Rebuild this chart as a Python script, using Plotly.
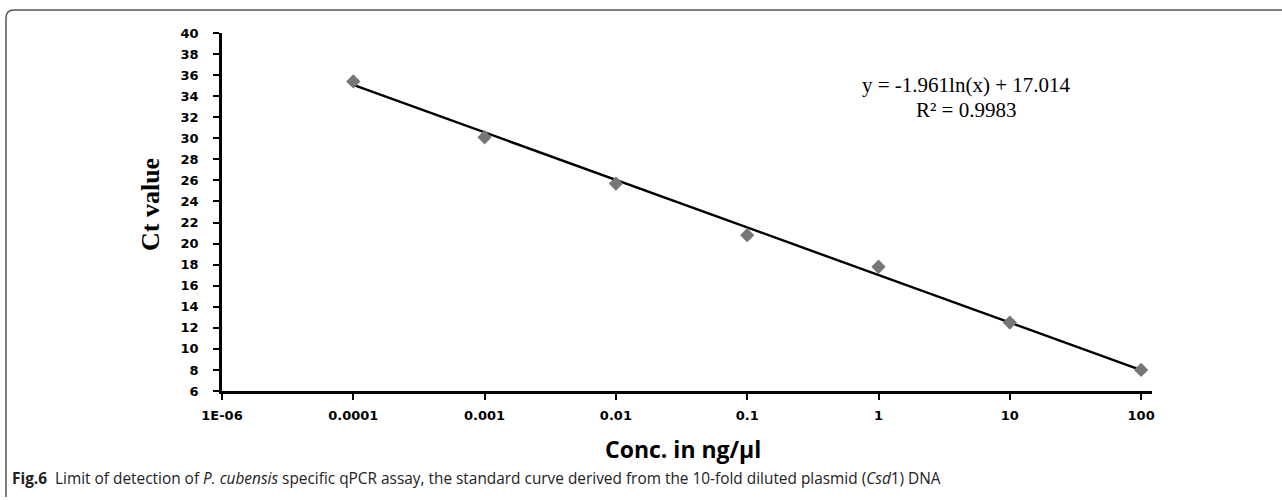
import math
import plotly.graph_objects as go

# ---- data ----
conc = [0.0001, 0.001, 0.01, 0.1, 1, 10, 100]
ct_values = [35.4, 30.1, 25.7, 20.8, 17.8, 12.5, 8.0]
tick_vals = [1e-5, 1e-4, 1e-3, 1e-2, 1e-1, 1, 10, 100]
tick_text = ["1E-06", "0.0001", "0.001", "0.01", "0.1", "1", "10", "100"]
trend_slope = -1.961
trend_intercept = 17.014
r_squared = 0.9983

trend_x = [conc[0], conc[-1]]
trend_y = [trend_slope * math.log(v) + trend_intercept for v in trend_x]

W, H = 1282, 500
L, R, T, B = 222, 130, 33, 109
pw, ph = W - L - R, H - T - B


def px(x):
    return (x - L) / pw


def py(y):
    return (H - B - y) / ph


fig = go.Figure()
fig.add_trace(go.Scatter(
    x=trend_x, y=trend_y, mode="lines",
    line=dict(color="black", width=2.4), showlegend=False, hoverinfo="skip"))
fig.add_trace(go.Scatter(
    x=conc, y=ct_values, mode="markers",
    marker=dict(symbol="diamond", size=11, color="#767676"),
    showlegend=False))

tickfont = dict(family="DejaVu Sans", size=13, color="black", weight="bold")

fig.update_xaxes(
    type="log", range=[-5, 2.083], tickvals=tick_vals, ticktext=tick_text,
    showgrid=False, zeroline=False, showline=True, linecolor="black", linewidth=2.5,
    ticks="outside", ticklen=6, tickwidth=2, tickcolor="black",
    tickfont=tickfont, ticklabelstandoff=5)
fig.update_yaxes(
    range=[6, 40], tickvals=list(range(6, 41, 2)),
    showgrid=False, zeroline=False, showline=True, linecolor="black", linewidth=2.5,
    ticks="outside", ticklen=6, tickwidth=2, tickcolor="black",
    tickfont=tickfont, ticklabelstandoff=12)

common = dict(xref="paper", yref="paper", showarrow=False,
              xanchor="center", yanchor="middle")
annotations = [
    dict(x=px(966), y=py(85), text=f"y = {trend_slope}ln(x) + {trend_intercept}",
         font=dict(family="Liberation Serif", size=21, color="black"), **common),
    dict(x=px(966), y=py(110), text=f"R² = {r_squared}",
         font=dict(family="Liberation Serif", size=21, color="black"), **common),
    dict(x=px(150), y=py(205), text="<b>Ct value</b>", textangle=-90,
         font=dict(family="Liberation Serif", size=26, color="black"), **common),
    dict(x=px(683), y=py(449), text="<b>Conc. in ng/µl</b>",
         font=dict(family="Open Sans", size=23, color="black"), **common),
    dict(x=px(10), y=py(478), xref="paper", yref="paper", showarrow=False,
         xanchor="left", yanchor="middle",
         text="<b>Fig.6</b>  Limit of detection of <i>P. cubensis</i> specific qPCR assay, "
              "the standard curve derived from the 10-fold diluted plasmid (<i>Csd</i>1) DNA",
         font=dict(family="Open Sans", size=15.4, color="#222222")),
]

r = 8
x0, y0, ytop, x1 = 6, 497, 10, 1290
path = (f"M {px(x0)},{py(y0)} L {px(x0)},{py(ytop + r)} "
        f"Q {px(x0)},{py(ytop)} {px(x0 + r)},{py(ytop)} L {px(x1)},{py(ytop)}")

fig.update_layout(
    width=W, height=H,
    margin=dict(l=L, r=R, t=T, b=B, autoexpand=False),
    paper_bgcolor="white", plot_bgcolor="white",
    annotations=annotations,
    shapes=[dict(type="path", path=path, xref="paper", yref="paper",
                 line=dict(color="#555555", width=1.5))],
)

fig.write_html("out.html")
